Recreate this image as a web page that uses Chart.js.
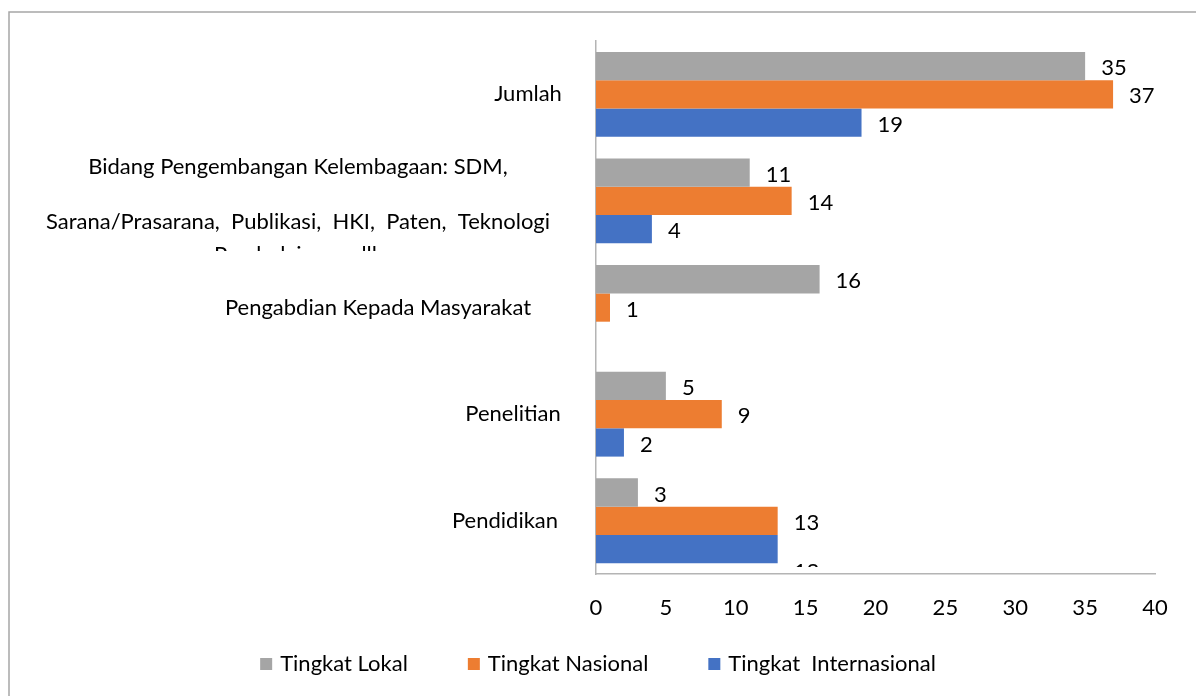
<!DOCTYPE html>
<html>
<head>
<meta charset="utf-8">
<script src="https://cdn.jsdelivr.net/npm/chart.js@4.4.1/dist/chart.umd.min.js"></script>
<style>
html, body { margin: 0; padding: 0; background: #fff; }
#wrap { width: 1196px; height: 696px; position: relative; }
</style>
</head>
<body>
<div id="wrap"><canvas id="chart"></canvas></div>
<script>
// Categories, top to bottom (multi-line labels as arrays)
const categories = [
    ['Jumlah'],
    ['Bidang Pengembangan Kelembagaan: SDM,',
     'Sarana/Prasarana,  Publikasi,  HKI,  Paten,  Teknologi',
     'Pembelajaran, dll.'],
    ['Pengabdian Kepada Masyarakat'],
    ['Penelitian'],
    ['Pendidikan'],
];
const seriesNames = ['Tingkat Lokal', 'Tingkat Nasional', 'Tingkat  Internasional'];
const lokal = [35, 11, 16, 5, 3];
const nasional = [37, 14, 1, 9, 13];
const internasional = [19, 4, null, 2, 13];
const xTickValues = [0, 5, 10, 15, 20, 25, 30, 35, 40];

const colors = ['#A5A5A5', '#ED7D31', '#4472C4'];
const FONT = 'Lato, "Noto Sans", sans-serif';

// Outer frame of the chart object
const pluginFrame = {
    id: 'frame',
    beforeDraw: function(chart) {
        const ctx = chart.ctx;
        ctx.save();
        ctx.fillStyle = '#fff';
        ctx.fillRect(0, 0, chart.width, chart.height);
        ctx.strokeStyle = '#A6A6A6';
        ctx.lineWidth = 1.5;
        ctx.strokeRect(9, 12, chart.width + 20, chart.height + 20);
        ctx.restore();
    },
};

// Category labels, centred like the original text boxes
const labelCenters = [528, 298, 378, 513, 505];
const lineBaselines = [-27, 28, 61];
const pluginCatLabels = {
    id: 'catLabels',
    afterDraw: function(chart) {
        const ctx = chart.ctx;
        const y = chart.scales.y;
        ctx.save();
        ctx.font = '22px ' + FONT;
        ctx.fillStyle = '#000';
        ctx.textAlign = 'center';
        categories.forEach((lines, i) => {
            const py = y.getPixelForValue(i);
            if (lines.length == 1) {
                ctx.textBaseline = 'middle';
                ctx.fillText(lines[0], labelCenters[i], py);
                return;
            }
            ctx.save();
            ctx.beginPath();
            ctx.rect(0, py - 60, chart.chartArea.left, 110);
            ctx.clip();
            ctx.textBaseline = 'alphabetic';
            lines.forEach((t, j) => ctx.fillText(t, labelCenters[i], py + lineBaselines[j]));
            ctx.restore();
        });
        ctx.restore();
    },
};

// Value labels at bar ends
const labelShift = {'2,4': 21};
const pluginValues = {
    id: 'values',
    afterDatasetsDraw: function(chart) {
        const ctx = chart.ctx;
        const area = chart.chartArea;
        ctx.save();
        ctx.beginPath();
        ctx.rect(area.left, area.top - 20, area.right - area.left + 40, area.bottom - area.top + 13);
        ctx.clip();
        ctx.font = '22px ' + FONT;
        ctx.fillStyle = '#000';
        ctx.textAlign = 'left';
        ctx.textBaseline = 'middle';
        chart.data.datasets.forEach((ds, i) => {
            chart.getDatasetMeta(i).data.forEach((bar, j) => {
                const v = ds.data[j];
                if (v == null) return;
                ctx.fillText(String(v), bar.x + 16, bar.y + 2 + (labelShift[i + ',' + j] || 0));
            });
        });
        ctx.restore();
    },
};

// Legend row under the axis (built-in legend ties row gap to vertical padding)
const pluginLegend = {
    id: 'legendRow',
    afterDraw: function(chart) {
        const ctx = chart.ctx;
        const box = 12, boxGap = 8, itemGap = 60, cy = 664;
        ctx.save();
        ctx.font = '22px ' + FONT;
        ctx.textBaseline = 'middle';
        ctx.textAlign = 'left';
        const items = chart.data.datasets.map(ds => ({
            text: ds.label,
            color: ds.backgroundColor,
            w: box + boxGap + ctx.measureText(ds.label).width,
        }));
        const total = items.reduce((s, it) => s + it.w, 0) + itemGap * (items.length - 1);
        let x = (chart.width - total) / 2;
        items.forEach(it => {
            ctx.fillStyle = it.color;
            ctx.fillRect(x, cy - box / 2, box, box);
            ctx.fillStyle = '#000';
            ctx.fillText(it.text, x + box + boxGap, cy);
            x += it.w + itemGap;
        });
        ctx.restore();
    },
};

new Chart(document.getElementById('chart'), {
    type: 'bar',
    data: {
        labels: categories,
        datasets: [lokal, nasional, internasional].map((d, i) => ({
            label: seriesNames[i],
            data: d,
            backgroundColor: colors[i],
            borderWidth: 0,
            categoryPercentage: 0.796,
            barPercentage: 1.0,
        })),
    },
    options: {
        indexAxis: 'y',
        responsive: true,
        maintainAspectRatio: false,
        animation: false,
        layout: {
            padding: {left: 0, right: 41, top: 41, bottom: 53.5},
        },
        scales: {
            x: {
                min: 0,
                max: 40,
                afterBuildTicks: function(s) {
                    s.ticks = xTickValues.map(v => ({value: v}));
                },
                grid: {display: false, drawTicks: false},
                border: {display: true, color: '#B4B4B4', width: 1.5},
                ticks: {
                    color: '#000',
                    font: {family: FONT, size: 22},
                    padding: 21,
                    maxRotation: 0,
                },
            },
            y: {
                afterFit: function(s) {
                    s.width = 596;
                },
                grid: {display: false, drawTicks: false},
                border: {display: true, color: '#B4B4B4', width: 1.5},
                ticks: {display: false},
            },
        },
        plugins: {
            legend: {display: false},
            tooltip: {enabled: false},
        },
    },
    plugins: [pluginFrame, pluginCatLabels, pluginValues, pluginLegend],
});
</script>
</body>
</html>
